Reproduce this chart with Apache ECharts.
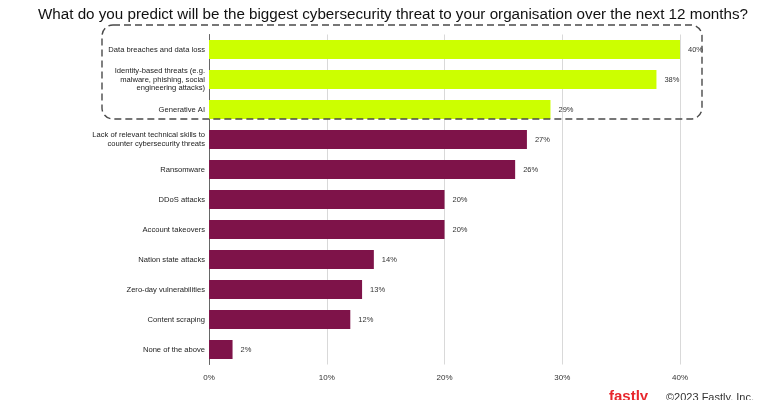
<!DOCTYPE html>
<html>
<head>
<meta charset="utf-8">
<script src="https://cdn.jsdelivr.net/npm/echarts@6/dist/echarts.min.js"></script>
<style>
  html, body { margin: 0; padding: 0; background: #fff; }
  #chart { width: 762px; height: 400px; }
</style>
</head>
<body>
<div id="chart"></div>
<script>
// 数据
const threats = [
    "Data breaches and data loss",
    "Identity-based threats (e.g.\nmalware, phishing, social\nengineering attacks)",
    "Generative AI",
    "Lack of relevant technical skills to\ncounter cybersecurity threats",
    "Ransomware",
    "DDoS attacks",
    "Account takeovers",
    "Nation state attacks",
    "Zero-day vulnerabilities",
    "Content scraping",
    "None of the above",
];
const shares = [40, 38, 29, 27, 26, 20, 20, 14, 13, 12, 2];
const topCount = 3; // 框起来的前三项
const tickValues = [0, 10, 20, 30, 40];

const LIME = "#ccff00",
    MAROON = "#7e1349";

var chart = echarts.init(document.getElementById("chart"));

var option = {
    backgroundColor: "#fff",
    animation: false,
    title: {
        text: "What do you predict will be the biggest cybersecurity threat to your organisation over the next 12 months?",
        left: 33,
        top: 2,
        textStyle: {
            fontFamily: "Liberation Sans",
            fontWeight: "normal",
            fontSize: 15.2,
            color: "#111",
        },
    },
    grid: {
        left: 209,
        right: 82,
        top: 34.5,
        height: 330,
        containLabel: false,
    },
    xAxis: {
        type: "value",
        min: tickValues[0],
        max: tickValues[tickValues.length - 1],
        interval: 10,
        axisLine: { show: false },
        axisTick: { show: false },
        splitLine: { lineStyle: { color: "#d9d9d9", width: 1 } },
        axisLabel: {
            formatter: v => v + "%",
            margin: 9,
            fontFamily: "Liberation Sans",
            fontSize: 8,
            color: "#333",
        },
    },
    yAxis: {
        type: "category",
        inverse: true,
        data: threats,
        axisLine: { show: true, lineStyle: { color: "#666", width: 1 } },
        axisTick: { show: false },
        axisLabel: {
            margin: 4,
            fontFamily: "Liberation Sans",
            fontSize: 7.6,
            lineHeight: 8.2,
            color: "#222",
            align: "right",
        },
    },
    series: [
        {
            type: "bar",
            data: shares.map((v, i) => ({
                value: v,
                itemStyle: { color: i < topCount ? LIME : MAROON },
            })),
            barWidth: 19,
            label: {
                show: true,
                position: "right",
                distance: 8,
                formatter: p => p.value + "%",
                fontFamily: "Liberation Sans",
                fontSize: 7.5,
                color: "#333",
            },
        },
    ],
};
chart.setOption(option);

// 虚线框：用坐标换算定位
var yFirst = chart.convertToPixel({ yAxisIndex: 0 }, threats[0]);
var yLast = chart.convertToPixel({ yAxisIndex: 0 }, threats[topCount - 1]);
var xMax = chart.convertToPixel({ xAxisIndex: 0 }, tickValues[tickValues.length - 1]);
var xZero = chart.convertToPixel({ xAxisIndex: 0 }, 0);
var boxX = xZero - 107,
    boxY = yFirst - 24.5;

chart.setOption({
    graphic: [
        {
            type: "rect",
            shape: {
                x: boxX,
                y: boxY,
                width: xMax + 22 - boxX,
                height: yLast + 9.5 - boxY,
                r: 11,
            },
            style: {
                fill: "none",
                stroke: "#4a4a4a",
                lineWidth: 1.4,
                lineDash: [7, 4],
            },
            z: 100,
        },
        {
            type: "text",
            left: 609,
            top: 389,
            style: {
                text: "fastly",
                font: "bold 15px 'Liberation Sans'",
                fill: "#e8262c",
            },
        },
        {
            type: "text",
            left: 666,
            top: 392,
            style: {
                text: "©2023 Fastly, Inc.",
                font: "11px 'Liberation Sans'",
                fill: "#333",
            },
        },
    ],
});
</script>
</body>
</html>
